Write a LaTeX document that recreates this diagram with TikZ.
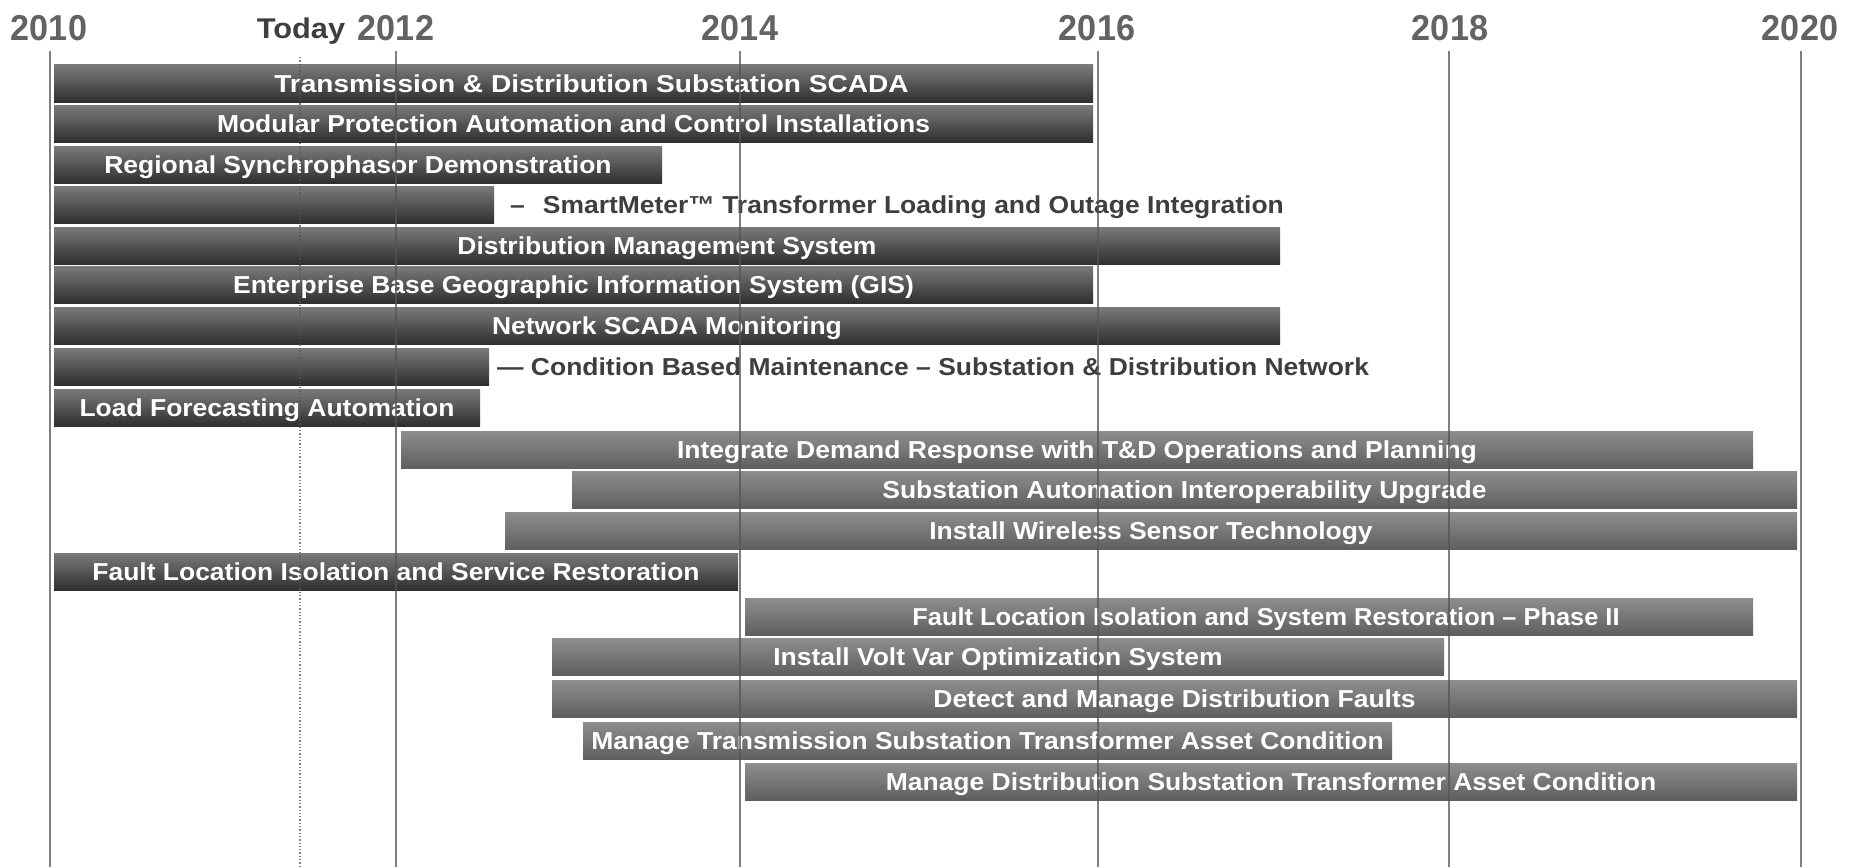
\documentclass[tikz,border=0pt]{standalone}
\usepackage{fontspec}
\usepackage{xcolor}
\usepackage{tikz}
\usetikzlibrary{calc}

\newfontfamily\barfont[Ligatures=TeX, FakeStretch=1.08]{Liberation Sans}
\newfontfamily\yearfont[Ligatures=TeX, FakeStretch=0.95]{Liberation Sans}

\definecolor{darktop}{HTML}{7A7A7A}
\definecolor{darkbot}{HTML}{2E2E2E}
\definecolor{lighttop}{HTML}{8E8E8E}
\definecolor{lightbot}{HTML}{5E5E5E}
\definecolor{yeargray}{HTML}{636363}
\definecolor{sidegray}{HTML}{3E3E3E}
\definecolor{linegray}{HTML}{555555}

\tikzset{
    bar/.style={anchor=north west, inner sep=0pt, outer sep=0pt, minimum height=37.5pt},
    darkbar/.style={bar, top color=darktop, bottom color=darkbot},
    lightbar/.style={bar, top color=lighttop, bottom color=lightbot},
    bartext/.style={anchor=base, inner sep=0pt, text=white,
        font=\barfont\bfseries\fontsize{24.5}{28}\selectfont},
    sidetext/.style={bartext, anchor=base west, text=sidegray},
    yearlabel/.style={anchor=base, inner sep=0pt, text=yeargray,
        font=\yearfont\bfseries\fontsize{36}{40}\selectfont},
    todaylabel/.style={anchor=base, inner sep=0pt, text=sidegray,
        font=\barfont\bfseries\fontsize{28.5}{32}\selectfont},
    yearline/.style={draw=linegray, line width=1.3pt, opacity=0.75},
    todayline/.style={yearline, dotted},
}

% name, style, left, right, top, text  (optional: text shift)
\newcommand{\ganttbar}[7][0]{%
    \node[#3, minimum width={#5-#4}] (#2) at (#4,#6) {};
    \node[bartext] (#2-t) at ([xshift=#1pt, yshift=-9pt]#2.center) {#7};
}

\begin{document}
\begin{tikzpicture}[x=1pt, y=-1pt]
    \useasboundingbox[fill=white] (0,0) rectangle (1857,867);

    % years
    \draw (49,41) node[yearlabel](y2010){2010};
    \draw (301,38) node[todaylabel](today){Today};
    \draw (396,41) node[yearlabel](y2012){2012};
    \draw (740,41) node[yearlabel](y2014){2014};
    \draw (1097,41) node[yearlabel](y2016){2016};
    \draw (1450,41) node[yearlabel](y2018){2018};
    \draw (1800,41) node[yearlabel](y2020){2020};

    % bars
    \ganttbar[18]{tds}{darkbar}{54}{1093}{65}{\scalebox{1.06}[1]{Transmission \& Distribution Substation SCADA}}
    \ganttbar{mpac}{darkbar}{54}{1093}{105}{Modular Protection Automation and Control Installations}
    \ganttbar{rsd}{darkbar}{54}{662}{146}{Regional Synchrophasor Demonstration}
    \node[darkbar, minimum width=440] (smt) at (54,186) {};
    \ganttbar{dms}{darkbar}{54}{1280}{227}{Distribution Management System}
    \ganttbar{gis}{darkbar}{54}{1093}{266}{Enterprise Base Geographic Information System (GIS)}
    \ganttbar{nsm}{darkbar}{54}{1280}{307}{Network SCADA Monitoring}
    \node[darkbar, minimum width=435] (cbm) at (54,348) {};
    \ganttbar{lfa}{darkbar}{54}{480}{389}{Load Forecasting Automation}
    \ganttbar{idr}{lightbar}{401}{1753}{431}{Integrate Demand Response with T\&D Operations and Planning}
    \ganttbar{sai}{lightbar}{572}{1797}{471}{Substation Automation Interoperability Upgrade}
    \ganttbar{wst}{lightbar}{505}{1797}{512}{Install Wireless Sensor Technology}
    \ganttbar{flisr}{darkbar}{54}{738}{553}{Fault Location Isolation and Service Restoration}
    \ganttbar[17]{flisrtwo}{lightbar}{745}{1753}{598}{\scalebox{0.96}[1]{Fault Location Isolation and System Restoration – Phase II}}
    \ganttbar{vvo}{lightbar}{552}{1444}{638}{Install Volt Var Optimization System}
    \ganttbar{dmf}{lightbar}{552}{1797}{680}{Detect and Manage Distribution Faults}
    \ganttbar{mtsa}{lightbar}{583}{1392}{722}{Manage Transmission Substation Transformer Asset Condition}
    \ganttbar{mdsa}{lightbar}{745}{1797}{763}{Manage Distribution Substation Transformer Asset Condition}

    % labels beside the short bars
    \node[sidetext] (smt-t) at ([xshift=16pt, yshift=-9pt]smt.east)
        {–\hspace{18pt}SmartMeter™ Transformer Loading and Outage Integration};
    \node[sidetext] (cbm-t) at ([xshift=8pt, yshift=-9pt]cbm.east)
        {— Condition Based Maintenance – Substation \& Distribution Network};

    % grid lines
    \coordinate (b2010) at (50,867);
    \coordinate (btoday) at (300,867);
    \coordinate (b2012) at (396,867);
    \coordinate (b2014) at (740,867);
    \coordinate (b2016) at (1098,867);
    \coordinate (b2018) at (1449,867);
    \coordinate (b2020) at (1801,867);
    \draw[yearline] (y2010.south -| b2010) ++(0,9) -- (b2010);
    \draw[todayline] (today.south -| btoday) ++(0,13) -- (btoday);
    \draw[yearline] (y2012.south -| b2012) ++(0,9) -- (b2012);
    \draw[yearline] (y2014.south -| b2014) ++(0,9) -- (b2014);
    \draw[yearline] (y2016.south -| b2016) ++(0,9) -- (b2016);
    \draw[yearline] (y2018.south -| b2018) ++(0,9) -- (b2018);
    \draw[yearline] (y2020.south -| b2020) ++(0,9) -- (b2020);
\end{tikzpicture}
\end{document}
